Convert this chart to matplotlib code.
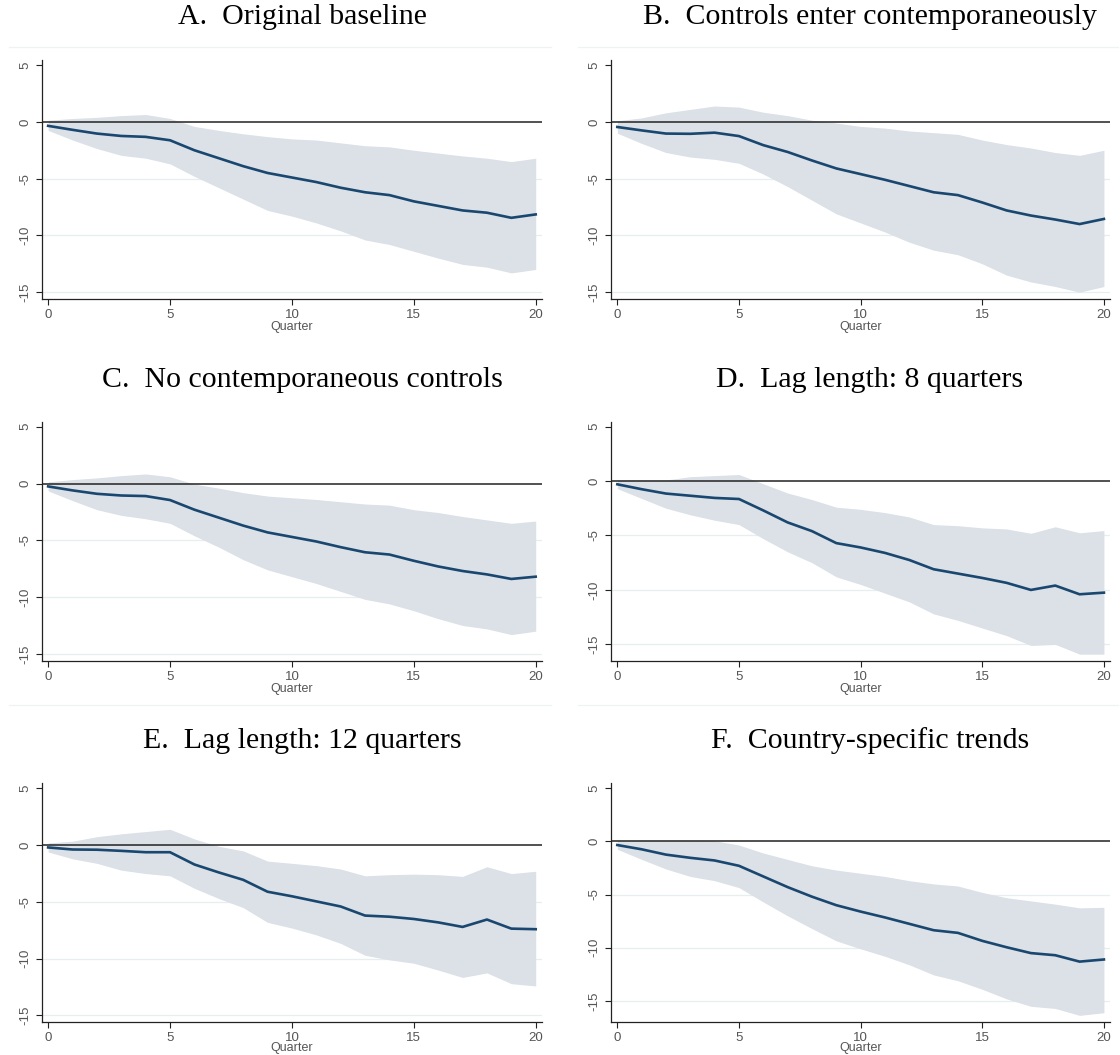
import numpy as np
import matplotlib
matplotlib.use("Agg")
import matplotlib.pyplot as plt

# quarters after the shock
quarter = list(range(21))

titles = ["A.  Original baseline",
          "B.  Controls enter contemporaneously",
          "C.  No contemporaneous controls",
          "D.  Lag length: 8 quarters",
          "E.  Lag length: 12 quarters",
          "F.  Country-specific trends"]

# A. Original baseline
a_est = [-0.35, -0.7, -1.03, -1.24, -1.32, -1.62, -2.5, -3.2, -3.9, -4.5, -4.9,
         -5.3, -5.8, -6.2, -6.45, -7.0, -7.4, -7.8, -8.0, -8.45, -8.15]
a_hi = [0.15, 0.3, 0.4, 0.55, 0.65, 0.3, -0.4, -0.75, -1.05, -1.3, -1.5,
        -1.6, -1.85, -2.1, -2.2, -2.5, -2.75, -3.0, -3.2, -3.5, -3.2]
a_lo = [-0.75, -1.6, -2.35, -2.95, -3.2, -3.7, -4.8, -5.8, -6.8, -7.8, -8.3,
        -8.9, -9.6, -10.4, -10.8, -11.4, -12.0, -12.55, -12.8, -13.3, -13.0]

# B. Controls enter contemporaneously
b_est = [-0.45, -0.75, -1.03, -1.05, -0.95, -1.25, -2.05, -2.65, -3.4, -4.1, -4.6,
         -5.1, -5.65, -6.2, -6.45, -7.1, -7.8, -8.25, -8.6, -9.0, -8.55]
b_hi = [0.1, 0.35, 0.8, 1.1, 1.4, 1.3, 0.85, 0.55, 0.15, -0.1, -0.4,
        -0.55, -0.8, -0.95, -1.1, -1.6, -2.0, -2.3, -2.7, -2.95, -2.5]
b_lo = [-1.0, -1.9, -2.7, -3.1, -3.3, -3.65, -4.6, -5.7, -6.9, -8.1, -8.9,
        -9.7, -10.6, -11.3, -11.7, -12.5, -13.5, -14.1, -14.5, -15.0, -14.5]

# C. No contemporaneous controls
c_est = [-0.25, -0.6, -0.9, -1.05, -1.1, -1.45, -2.3, -3.0, -3.7, -4.3, -4.7,
         -5.1, -5.6, -6.05, -6.25, -6.8, -7.3, -7.7, -8.0, -8.4, -8.2]
c_hi = [0.15, 0.35, 0.5, 0.7, 0.85, 0.6, -0.05, -0.4, -0.8, -1.1, -1.25,
        -1.4, -1.6, -1.8, -1.9, -2.3, -2.55, -2.9, -3.2, -3.5, -3.3]
c_lo = [-0.65, -1.5, -2.3, -2.8, -3.1, -3.5, -4.6, -5.6, -6.7, -7.6, -8.2,
        -8.8, -9.5, -10.2, -10.6, -11.2, -11.9, -12.5, -12.8, -13.3, -13.0]

# D. Lag length: 8 quarters
d_est = [-0.3, -0.75, -1.15, -1.35, -1.55, -1.65, -2.7, -3.8, -4.6, -5.7, -6.1,
         -6.6, -7.25, -8.1, -8.5, -8.9, -9.35, -10.0, -9.6, -10.4, -10.25]
d_hi = [0.1, 0.1, 0.1, 0.4, 0.5, 0.6, -0.25, -1.1, -1.7, -2.4, -2.6,
        -2.9, -3.3, -4.0, -4.1, -4.3, -4.4, -4.8, -4.2, -4.75, -4.55]
d_lo = [-0.7, -1.6, -2.5, -3.1, -3.6, -4.0, -5.3, -6.5, -7.5, -8.8, -9.5,
        -10.3, -11.1, -12.2, -12.8, -13.5, -14.2, -15.1, -15.0, -15.9, -15.9]

# E. Lag length: 12 quarters
e_est = [-0.2, -0.38, -0.4, -0.5, -0.62, -0.62, -1.7, -2.4, -3.05, -4.1, -4.5,
         -4.95, -5.4, -6.2, -6.3, -6.5, -6.8, -7.2, -6.55, -7.35, -7.4]
e_hi = [0.2, 0.35, 0.75, 1.0, 1.2, 1.4, 0.55, -0.1, -0.5, -1.4, -1.6,
        -1.8, -2.1, -2.7, -2.6, -2.55, -2.6, -2.75, -1.9, -2.5, -2.3]
e_lo = [-0.6, -1.2, -1.6, -2.2, -2.5, -2.7, -3.8, -4.7, -5.5, -6.8, -7.3,
        -7.9, -8.65, -9.7, -10.1, -10.4, -11.0, -11.65, -11.25, -12.2, -12.4]

# F. Country-specific trends
f_est = [-0.35, -0.75, -1.25, -1.55, -1.8, -2.3, -3.3, -4.3, -5.2, -6.0, -6.6,
         -7.15, -7.75, -8.35, -8.6, -9.35, -9.95, -10.5, -10.7, -11.3, -11.1]
f_hi = [0.1, 0.1, 0.1, 0.1, 0.05, -0.35, -1.1, -1.7, -2.3, -2.7, -3.0,
        -3.3, -3.7, -4.0, -4.2, -4.8, -5.3, -5.6, -5.9, -6.25, -6.2]
f_lo = [-0.75, -1.7, -2.6, -3.3, -3.7, -4.35, -5.7, -7.0, -8.2, -9.35, -10.1,
        -10.8, -11.6, -12.55, -13.1, -13.9, -14.8, -15.5, -15.7, -16.35, -16.1]

yticks = [-15, -10, -5, 0, 5]
xticks = [0, 5, 10, 15, 20]
grid_levels = [-5, -10, -15]

panels = [(a_est, a_hi, a_lo), (b_est, b_hi, b_lo), (c_est, c_hi, c_lo),
          (d_est, d_hi, d_lo), (e_est, e_hi, e_lo), (f_est, f_hi, f_lo)]
ybottom = [-15.6, -15.6, -15.6, -16.5, -15.6, -17.0]

W, H = 1120, 1055
fig = plt.figure(figsize=(W / 100, H / 100), dpi=100)

col_left = [41.8, 611.0]
col_width = [500.0, 499.0]
row_top = [60.0, 421.7, 783.3]
ax_h = 239.0
title_y = [17.0, 380.0, 741.0]
title_x = [302.0, 870.0]

band_col = "#dbe1e7"
line_col = "#1a476f"
tick_col = "#555555"

for i, (est, hi, lo) in enumerate(panels):
    r, c = divmod(i, 2)
    ax = fig.add_axes([col_left[c] / W, 1 - (row_top[r] + ax_h) / H,
                       col_width[c] / W, ax_h / H])
    for g in grid_levels:
        ax.axhline(g, color="#e6eeef", lw=0.9, zorder=0)
    ax.fill_between(quarter, lo, hi, color=band_col, lw=0, zorder=1)
    ax.axhline(0, color="#222222", lw=1.1, zorder=2)
    ax.plot(quarter, est, color=line_col, lw=1.9, zorder=3)

    ax.set_xlim(-0.26, 20.25)
    ax.set_ylim(ybottom[i], 5.45)
    ax.set_xticks(xticks)
    ax.set_yticks(yticks)
    ax.set_yticklabels([str(t) for t in yticks], rotation=90, va="center")
    ax.tick_params(axis="y", length=4, width=0.8, pad=3.5, labelsize=9.5,
                   labelcolor=tick_col, color="#222222")
    ax.tick_params(axis="x", length=4, width=0.8, pad=3.3, labelsize=9.5,
                   labelcolor=tick_col, color="#222222")
    for lab in ax.get_xticklabels() + ax.get_yticklabels():
        lab.set_family("Liberation Sans")
    ax.set_xlabel("Quarter", fontsize=9, color=tick_col,
                  labelpad=-1.5 if r == 2 else 0, family="Liberation Sans")
    for side in ["top", "right"]:
        ax.spines[side].set_visible(False)
    for side in ["left", "bottom"]:
        ax.spines[side].set_color("#222222")
        ax.spines[side].set_linewidth(0.9)

    fig.text(title_x[c] / W, 1 - title_y[r] / H, titles[i], ha="center",
             va="center", fontsize=21.5, family="Liberation Serif")

# faint outer-region borders
for yy in [47, 705]:
    fig.add_artist(plt.Line2D([9 / W, 551 / W], [1 - yy / H] * 2,
                              color="#eef2f3", lw=0.9))
    fig.add_artist(plt.Line2D([578 / W, 1118 / W], [1 - yy / H] * 2,
                              color="#eef2f3", lw=0.9))

fig.savefig("out.png", dpi=100, facecolor="white")
